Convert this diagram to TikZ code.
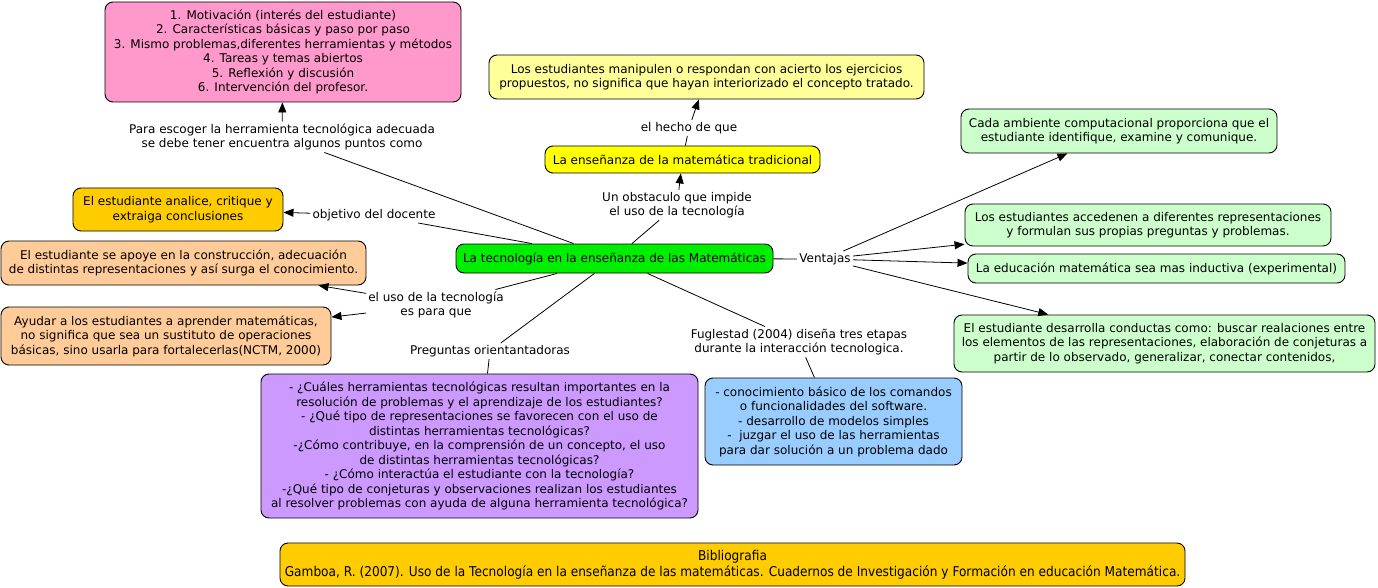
\documentclass[tikz,border=0pt]{standalone}
\usepackage{fontspec}
\setmainfont{DejaVu Sans}
\newfontfamily\bibfont[FakeStretch=0.9]{DejaVu Sans}
\usetikzlibrary{arrows.meta}
\definecolor{cpink}{HTML}{FF99CC}
\definecolor{cylight}{HTML}{FFFF99}
\definecolor{cyellow}{HTML}{FFFF00}
\definecolor{cgreenl}{HTML}{CCFFCC}
\definecolor{cgold}{HTML}{FFCC00}
\definecolor{cpeach}{HTML}{FFCC99}
\definecolor{cgreen}{HTML}{00EE00}
\definecolor{cpurple}{HTML}{CC99FF}
\definecolor{cblue}{HTML}{99CCFF}
\newcommand\mapfont{\fontsize{12}{14.5}\selectfont}
\tikzset{
  box/.style={draw=black, line width=0.9pt, rounded corners=8pt, align=center, inner sep=2pt, font=\mapfont},
  lbl/.style={align=center, inner sep=2pt, font=\mapfont},
  con/.style={line width=0.8pt},
  arr/.style={line width=0.8pt, -{Triangle[length=10pt,width=8pt]}}
}
\begin{document}
\begin{tikzpicture}[x=1pt,y=-1pt]
\useasboundingbox[fill=white] (0,0) rectangle (1378,588);

% concepts
\node[box, fill=cpink, minimum width=356pt, minimum height=100pt] (pink) at (283,52)
  {1. Motivación (interés del estudiante)\\2. Características básicas y paso por paso\\3. Mismo problemas,diferentes herramientas y métodos\\4. Tareas y temas abiertos\\5. Reflexión y discusión\\6. Intervención del profesor.};
\node[box, fill=cylight, minimum width=435pt, minimum height=44pt] (ytop) at (706.5,77)
  {Los estudiantes manipulen o respondan con acierto los ejercicios\\propuestos, no significa que hayan interiorizado el concepto tratado.};
\node[box, fill=cyellow, minimum width=275pt, minimum height=27pt] (trad) at (682.5,159.5)
  {La enseñanza de la matemática tradicional};
\node[box, fill=cgreenl, minimum width=316pt, minimum height=44pt] (g1) at (1119,131)
  {Cada ambiente computacional proporciona que el\\estudiante identifique, examine y comunique.};
\node[box, fill=cgreenl, minimum width=366pt, minimum height=42pt] (g2) at (1148,225)
  {Los estudiantes accedenen a diferentes representaciones\\y formulan sus propias preguntas y problemas.};
\node[box, fill=cgreenl, minimum width=377pt, minimum height=29pt] (g3) at (1156.5,268.5)
  {La educación matemática sea mas inductiva (experimental)};
\node[box, fill=cgreenl, minimum width=421pt, minimum height=57pt] (g4) at (1164.5,343.5)
  {El estudiante desarrolla conductas como: buscar realaciones entre\\los elementos de las representaciones, elaboración de conjeturas a\\partir de lo observado, generalizar, conectar contenidos,};
\node[box, fill=cgold, minimum width=210pt, minimum height=43pt] (anal) at (178,209.5)
  {El estudiante analice, critique y\\extraiga conclusiones};
\node[box, fill=cpeach, minimum width=365pt, minimum height=44pt] (p1) at (183.5,263)
  {El estudiante se apoye en la construcción, adecuación\\de distintas representaciones y así surga el conocimiento.};
\node[box, fill=cpeach, minimum width=330pt, minimum height=58pt] (p2) at (166,336)
  {Ayudar a los estudiantes a aprender matemáticas,\\no significa que sea un sustituto de operaciones\\básicas, sino usarla para fortalecerlas(NCTM, 2000)};
\node[box, fill=cgreen, minimum width=317pt, minimum height=29pt] (main) at (614.5,258.5)
  {La tecnología en la enseñanza de las Matemáticas};
\node[box, fill=cpurple, minimum width=437pt, minimum height=144pt] (purp) at (479.5,446)
  {- ¿Cuáles herramientas tecnológicas resultan importantes en la\\resolución de problemas y el aprendizaje de los estudiantes?\\- ¿Qué tipo de representaciones se favorecen con el uso de\\distintas herramientas tecnológicas?\\-¿Cómo contribuye, en la comprensión de un concepto, el uso\\de distintas herramientas tecnológicas?\\- ¿Cómo interactúa el estudiante con la tecnología?\\-¿Qué tipo de conjeturas y observaciones realizan los estudiantes\\al resolver problemas con ayuda de alguna herramienta tecnológica?};
\node[box, fill=cblue, minimum width=257pt, minimum height=87pt] (blue) at (833.5,421.5)
  {- conocimiento básico de los comandos\\o funcionalidades del software.\\- desarrollo de modelos simples\\-\ \ juzgar el uso de las herramientas\\para dar solución a un problema dado};
\node[box, fill=cgold, minimum width=905pt, minimum height=43pt, font=\bibfont\fontsize{13.5}{16}\selectfont] (bib) at (732.5,564.5)
  {Bibliografia\\Gamboa, R. (2007). Uso de la Tecnología en la enseñanza de las matemáticas. Cuadernos de Investigación y Formación en educación Matemática.};

% linking phrases
\node[lbl] (para) at (282,137) {Para escoger la herramienta tecnológica adecuada\\se debe tener encuentra algunos puntos como};
\node[lbl] (hecho) at (689,128) {el hecho de que};
\node[lbl] (obst) at (677,205) {Un obstaculo que impide\\el uso de la tecnología};
\node[lbl] (obj) at (374,215) {objetivo del docente};
\node[lbl] (uso) at (436,305) {el uso de la tecnología\\es para que};
\node[lbl] (preg) at (490,351) {Preguntas orientantadoras};
\node[lbl] (fug) at (799,342) {Fuglestad (2004) diseña tres etapas\\durante la interacción tecnologica.};
\node[lbl] (vent) at (825,259) {Ventajas};

% connectors
\draw[con] (main) -- (para);
\draw[arr] (para) -- (pink);
\draw[con] (main) -- (obst);
\draw[arr] (obst) -- (trad);
\draw[con] (trad) -- (hecho);
\draw[arr] (hecho) -- (ytop);
\draw[con] (main) -- (obj);
\draw[arr] (obj) -- (anal);
\draw[con] (main) -- (uso);
\draw[arr] (uso) -- (p1);
\draw[arr] (uso) -- (p2);
\draw[con] (main) -- (preg);
\draw[con] (preg) -- (purp);
\draw[con] (main) -- (fug);
\draw[con] (fug) -- (blue);
\draw[con] (main) -- (vent);
\draw[arr] (vent) -- (g1);
\draw[arr] (vent) -- (g2);
\draw[arr] (vent) -- (g3);
\draw[arr] (vent) -- (g4);
\end{tikzpicture}
\end{document}
